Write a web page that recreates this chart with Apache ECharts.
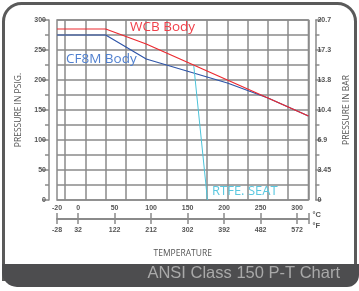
<!DOCTYPE html>
<html>
<head>
<meta charset="utf-8">
<script src="https://cdn.jsdelivr.net/npm/echarts@6/dist/echarts.min.js"></script>
<style>
  html, body { margin: 0; padding: 0; background: #fff; }
  #chart { width: 359px; height: 291px; }
</style>
</head>
<body>
<div id="chart"></div>
<script>
// temperatures are in deg F on the plot axis
const wcbTemp = [-20, 100, 200, 300, 400, 500, 600];
const wcbPsi = [285, 285, 260, 230, 200, 170, 140];
const cf8mTemp = [-20, 100, 200, 300, 400, 500, 600];
const cf8mPsi = [275, 275, 235, 215, 195, 170, 140];
const ptfeTemp = [317, 351];
const ptfePsi = [225, 0];

// bottom scale: tick positions (deg F) and the two rows of labels
const scalePos = [-20, 32, 122, 212, 302, 392, 482, 572];
const celsiusLabels = ['-20', '0', '50', '100', '150', '200', '250', '300'];
const fahrenheitLabels = ['-28', '32', '122', '212', '302', '392', '482', '572'];
const barLabels = ['0', '3.45', '6.9', '10.4', '13.8', '17.3', '20.7'];

const gridColor = '#8a8a8a';
const textColor = '#555';

// vertical grid lines every 50 deg F
let vLines = [];
for (let f = 0; f <= 600; f += 50) vLines.push({ xAxis: f });

const pair = (xs, ys) => xs.map((x, i) => [x, ys[i]]);

let myChart = echarts.init(document.getElementById('chart'));
let option = {
  animation: false,
  grid: {
    left: 57, right: 47, top: 20, bottom: 91,
    show: true, borderColor: gridColor, borderWidth: 1.5
  },
  xAxis: [
    {
      type: 'value', min: -20, max: 600,
      axisLine: { show: false, onZero: false }, axisTick: { show: false },
      axisLabel: { show: false }, splitLine: { show: false },
      name: 'TEMPERATURE', nameLocation: 'middle', nameGap: 49,
      nameTextStyle: { fontSize: 8.5, color: textColor, fontFamily: 'Open Sans' }
    },
    {
      type: 'value', min: -20, max: 600, position: 'bottom', offset: 19,
      axisLine: { show: true, onZero: false, lineStyle: { color: gridColor, width: 2 } },
      axisTick: { show: true, inside: true, length: 6, customValues: scalePos.concat([600]),
        lineStyle: { color: gridColor, width: 1.5 } },
      axisLabel: { inside: true, margin: 7, customValues: scalePos,
        formatter: v => celsiusLabels[scalePos.indexOf(v)],
        fontSize: 7, fontWeight: 'bold', color: textColor },
      splitLine: { show: false },
      name: '°C', nameLocation: 'end', nameGap: 4,
      nameTextStyle: { fontSize: 7.5, color: textColor, verticalAlign: 'bottom', fontWeight: 'bold' }
    },
    {
      type: 'value', min: -20, max: 600, position: 'bottom', offset: 19,
      axisLine: { show: false, onZero: false },
      axisTick: { show: true, length: 5, customValues: scalePos.concat([600]),
        lineStyle: { color: gridColor, width: 1.5 } },
      axisLabel: { margin: 8, customValues: scalePos,
        formatter: v => fahrenheitLabels[scalePos.indexOf(v)],
        fontSize: 7, fontWeight: 'bold', color: textColor },
      splitLine: { show: false },
      name: '°F', nameLocation: 'end', nameGap: 4,
      nameTextStyle: { fontSize: 7.5, color: textColor, verticalAlign: 'top', fontWeight: 'bold', padding: [3, 0, 0, 0] }
    }
  ],
  yAxis: [
    {
      type: 'value', min: 0, max: 300, interval: 50, position: 'left', offset: 8,
      axisLine: { show: true, onZero: false, lineStyle: { color: gridColor, width: 1.5 } },
      axisTick: { show: true, length: 7, lineStyle: { color: gridColor, width: 1.5 } },
      minorTick: { show: true, splitNumber: 2, length: 4, lineStyle: { color: gridColor, width: 1.5 } },
      splitLine: { show: true, lineStyle: { color: gridColor, width: 1.5 } },
      minorSplitLine: { show: true, lineStyle: { color: gridColor, width: 1.5 } },
      axisLabel: { fontSize: 7, fontWeight: 'bold', color: textColor, margin: 3 },
      name: 'PRESSURE IN PSIG.', nameLocation: 'middle', nameGap: 24, nameRotate: 90,
      nameTextStyle: { fontSize: 8.5, color: textColor, fontFamily: 'Open Sans' }
    },
    {
      type: 'value', min: 0, max: 300, interval: 50, position: 'right', offset: 7,
      axisLine: { show: true, onZero: false, lineStyle: { color: gridColor, width: 1.5 } },
      axisTick: { show: true, length: 6, lineStyle: { color: gridColor, width: 1.5 } },
      minorTick: { show: true, splitNumber: 2, length: 4, lineStyle: { color: gridColor, width: 1.5 } },
      splitLine: { show: false },
      axisLabel: { fontSize: 7, fontWeight: 'bold', color: textColor, margin: 2,
        formatter: v => barLabels[v / 50] },
      name: 'PRESSURE IN BAR', nameLocation: 'middle', nameGap: 22, nameRotate: 90,
      nameTextStyle: { fontSize: 8.5, color: textColor, fontFamily: 'Open Sans' }
    }
  ],
  series: [
    {
      name: 'WCB Body', type: 'line', data: pair(wcbTemp, wcbPsi),
      symbol: 'none', lineStyle: { color: '#ec2a30', width: 1.2 }, z: 4,
      markLine: {
        silent: true, symbol: ['none', 'none'], label: { show: false },
        lineStyle: { color: gridColor, width: 1.5, type: 'solid' },
        data: vLines, z: 1
      }
    },
    {
      name: 'CF8M Body', type: 'line', data: pair(cf8mTemp, cf8mPsi),
      symbol: 'none', lineStyle: { color: '#2f55a8', width: 1.2 }, z: 3
    },
    {
      name: 'RTFE. SEAT', type: 'line', data: pair(ptfeTemp, ptfePsi),
      symbol: 'none', lineStyle: { color: '#4cc3d9', width: 1 }, z: 3
    }
  ],
  graphic: [
    {
      type: 'rect', z: 0, silent: true,
      shape: { x: 3.5, y: 3.5, width: 352, height: 276, r: [18, 18, 0, 0] },
      style: { fill: 'none', stroke: '#5a5a5a', lineWidth: 3 }
    },
    {
      type: 'rect', z: 1, silent: true,
      shape: { x: 2, y: 264, width: 357, height: 23, r: [0, 0, 12, 15] },
      style: { fill: '#4d4d4f' }
    },
    {
      type: 'text', right: 19, top: 265, z: 2,
      style: { text: 'ANSI Class 150 P-T Chart', fill: '#a9a9a9', fontSize: 16.5, fontFamily: 'Liberation Sans' }
    },
    {
      type: 'text', left: 130, top: 20, z: 5,
      style: { text: 'WCB Body', fill: '#f0404a', fontSize: 13.5, fontFamily: 'Open Sans' }
    },
    {
      type: 'text', left: 66, top: 52, z: 5,
      style: { text: 'CF8M Body', fill: '#4f7fcf', fontSize: 13.5, fontFamily: 'Open Sans' }
    },
    {
      type: 'text', left: 212, top: 185, z: 5,
      style: { text: 'RTFE. SEAT', fill: '#5bc8e0', fontSize: 13, fontFamily: 'Open Sans' }
    }
  ]
};
myChart.setOption(option);
</script>
</body>
</html>
